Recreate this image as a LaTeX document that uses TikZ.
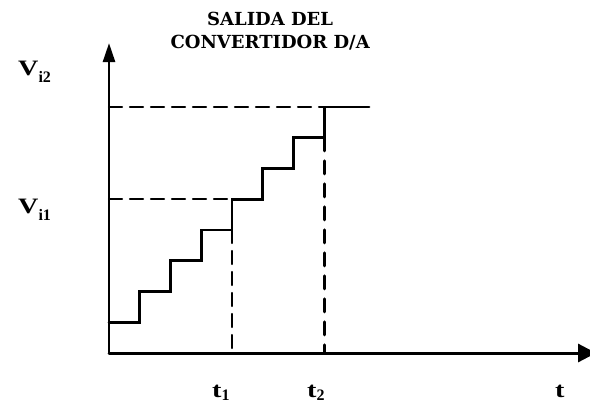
\documentclass[tikz,border=0pt]{standalone}
\usepackage{fontspec}
\usepackage{tkz-euclide}
\usetikzlibrary{arrows.meta,calc}
\newfontfamily\titlefam{DejaVu Serif}
\newfontfamily\lblfam{Liberation Serif}[FakeStretch=1.28]
\newfontfamily\lowfam{Liberation Serif}
\newcommand{\lowfont}{\lowfam\bfseries\fontsize{16}{16}\selectfont}
\tikzset{
  lbl/.style={anchor=base west,inner sep=0pt,font=\lblfam\bfseries\fontsize{22}{26}\selectfont},
  stairline/.style={line width=2.6pt,line join=miter},
  guide/.style={line width=2.2pt,dash pattern=on 13pt off 8pt}
}

\begin{document}
\begin{tikzpicture}[scale=1.0807]
\useasboundingbox (-3.545,-1.756) rectangle (15.642,11.48);

% axes
\tkzDefPoints{0/0/O,15.84/0/X,0/10.08/Y}
\tkzDrawSegment[line width=3pt,-{Triangle[length=18pt,width=18pt]}](O,X)
\tkzDrawSegment[line width=2.6pt,-{Triangle[length=19pt,width=12pt]}](O,Y)

% converter output
\tkzDefPoints{0/1/S0,1/1/S1,1/2/S2,2/2/S3,2/3/S4,3/3/S5,3/4/S6,4/4/S7}
\tkzDefPoints{4/5/S8,5/5/S9,5/6/S10,6/6/S11,6/7/S12,7/7/S13,7/8/S14,8.46/8/S15}
\tkzDrawPolySeg[stairline](S0,S1,S2,S3,S4,S5,S6,S7,S8,S9,S10,S11,S12,S13,S14,S15)

% levels and times
\tkzDefPoints{0/5/A,0/8/B,4/0/T1,7/0/T2}
\tkzDrawSegment[guide](A,S8)
\tkzDrawSegment[guide](B,S14)
\tkzDrawSegment[guide](S7,T1)
\tkzDrawSegment[guide,line width=3pt,dash pattern=on 13pt off 10pt](S13,T2)

\node[inner sep=0pt,align=center,font=\titlefam\bfseries\fontsize{18}{23}\selectfont] (title) at (5.24,10.47) {SALIDA DEL\\CONVERTIDOR D/A};
\node[lbl] (vitwo) at (-2.96,9.04) {V\raisebox{-7pt}{\lowfont i2}};
\node[lbl] (vione) at (-2.96,4.55) {V\raisebox{-7pt}{\lowfont i1}};
\node[lbl] (tone) at (3.35,-1.45) {t\raisebox{-3pt}{\lowfont 1}};
\node[lbl] (ttwo) at (6.44,-1.45) {t\raisebox{-3pt}{\lowfont 2}};
\node[lbl] (tlab) at (14.5,-1.45) {t};

\end{tikzpicture}
\end{document}
